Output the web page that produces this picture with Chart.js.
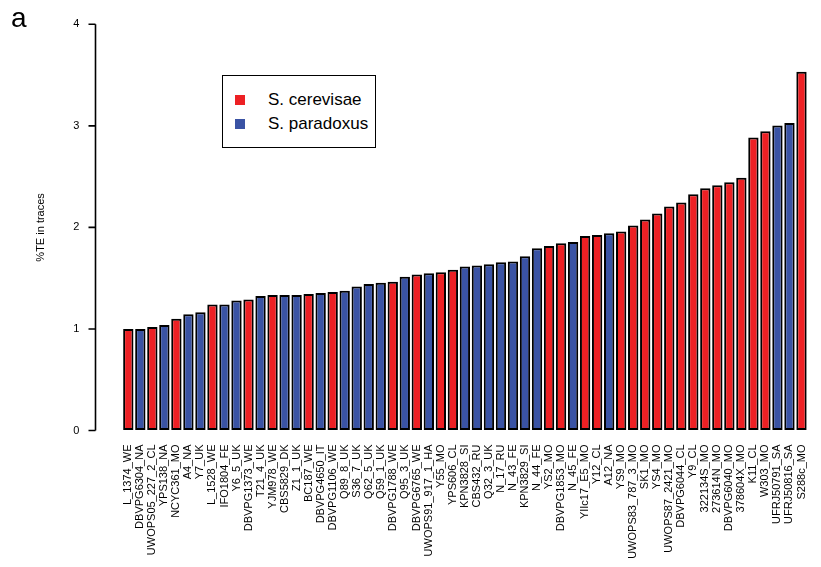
<!DOCTYPE html>
<html>
<head>
<meta charset="utf-8">
<script src="https://cdn.jsdelivr.net/npm/chart.js@4"></script>
<style>
  html, body { margin: 0; padding: 0; background: #fff; }
  #wrap { position: relative; width: 821px; height: 567px; }
  #panel { position: absolute; left: 11px; top: 2px; font: 28px "Liberation Sans", Arial, sans-serif; color: #000; }
  #legend { position: absolute; left: 222px; top: 75px; width: 152px; height: 71px; border: 1.8px solid #000; background: #fff;
            font: 17px "Liberation Sans", Arial, sans-serif; color: #000; }
  .row { position: absolute; left: 0; height: 20px; line-height: 20px; white-space: nowrap; }
  .sw { position: absolute; left: 12px; top: 5px; width: 10px; height: 10px; }
  .lbl { position: absolute; left: 45px; top: 0; }
</style>
</head>
<body>
<div id="wrap">
  <canvas id="c" width="821" height="567"></canvas>
  <div id="panel">a</div>
  <div id="legend"></div>
</div>
<script>
const strains = [
  "L_1374_WE","DBVPG6304_NA","UWOPS05_227_2_CL","YPS138_NA","NCYC361_MO","A4_NA","Y7_UK","L_1528_WE",
  "IFO1804_FE","Y6_5_UK","DBVPG1373_WE","T21_4_UK","YJM978_WE","CBS5829_DK","Z1_1_UK","BC187_WE",
  "DBVPG4650_IT","DBVPG1106_WE","Q89_8_UK","S36_7_UK","Q62_5_UK","Q59_1_UK","DBVPG1788_WE","Q95_3_UK",
  "DBVPG6765_WE","UWOPS91_917_1_HA","Y55_MO","YPS606_CL","KPN3828_SI","CBS432_RU","Q32_3_UK","N_17_RU",
  "N_43_FE","KPN3829_SI","N_44_FE","YS2_MO","DBVPG1853_MO","N_45_FE","YIIc17_E5_MO","Y12_CL",
  "A12_NA","YS9_MO","UWOPS83_787_3_MO","SK1_MO","YS4_MO","UWOPS87_2421_MO","DBVPG6044_CL","Y9_CL",
  "322134S_MO","273614N_MO","DBVPG6040_MO","378604X_MO","K11_CL","W303_MO","UFRJ50791_SA","UFRJ50816_SA",
  "S288c_MO"
];
// species: c = S. cerevisae, p = S. paradoxus
const species = [
  "c","p","c","p","c","p","p","c",
  "p","p","c","p","c","p","p","c",
  "p","c","p","p","p","p","c","p",
  "c","p","c","c","p","p","p","p",
  "p","p","p","c","c","p","c","c",
  "p","c","c","c","c","c","c","c",
  "c","c","c","c","c","c","p","p",
  "c"
];
const teValues = [
  1.00,1.00,1.02,1.04,1.10,1.145,1.165,1.24,
  1.24,1.28,1.29,1.325,1.335,1.335,1.335,1.345,
  1.355,1.365,1.377,1.417,1.443,1.456,1.466,1.515,
  1.535,1.549,1.558,1.584,1.614,1.624,1.637,1.657,
  1.663,1.716,1.795,1.818,1.844,1.857,1.916,1.926,
  1.943,1.959,2.018,2.077,2.136,2.205,2.244,2.327,
  2.386,2.416,2.445,2.488,2.885,2.948,3.003,3.027,
  3.532
];
const seriesNames = ["S. cerevisae", "S. paradoxus"];
const seriesKeys = ["c", "p"];
const seriesColors = ["#ED2024", "#3A53A4"];
const yTicks = [0, 1, 2, 3, 4];
const yTitle = "%TE in traces";

const datasets = seriesKeys.map((k, i) => ({
  label: seriesNames[i],
  data: teValues.map((v, j) => species[j] === k ? v : null),
  backgroundColor: seriesColors[i],
  borderColor: "#000",
  borderWidth: 2,
  borderSkipped: false,
  grouped: false,
  barPercentage: 0.86,
  categoryPercentage: 1.0
}));

// legend (HTML)
const leg = document.getElementById("legend");
seriesNames.forEach((n, i) => {
  const r = document.createElement("div");
  r.className = "row";
  r.style.top = (14 + i * 24) + "px";
  r.style.width = "150px";
  r.innerHTML = '<span class="sw" style="background:' + seriesColors[i] + '"></span><span class="lbl"></span>';
  r.querySelector(".lbl").textContent = n;
  leg.appendChild(r);
});

const axisPlugin = {
  id: "rAxis",
  afterDraw(chart) {
    const y = chart.scales.y;
    const ctx = chart.ctx;
    const ax = 95.5;
    ctx.save();
    ctx.strokeStyle = "#000";
    ctx.lineWidth = 1.6;
    ctx.beginPath();
    ctx.moveTo(ax, y.getPixelForValue(yTicks[0]));
    ctx.lineTo(ax, y.getPixelForValue(yTicks[yTicks.length - 1]));
    yTicks.forEach(t => {
      const py = y.getPixelForValue(t);
      ctx.moveTo(ax, py);
      ctx.lineTo(ax - 7, py);
    });
    ctx.stroke();
    ctx.restore();
  }
};

new Chart(document.getElementById("c"), {
  type: "bar",
  data: { labels: strains, datasets },
  plugins: [axisPlugin],
  options: {
    responsive: false,
    devicePixelRatio: 1,
    animation: false,
    layout: { padding: { left: 0, right: 13.5, top: 24.3, bottom: 0 } },
    plugins: { legend: { display: false }, tooltip: { enabled: false } },
    scales: {
      x: {
        type: "category",
        offset: true,
        grid: { display: false, drawTicks: false },
        border: { display: false },
        ticks: {
          autoSkip: false,
          maxRotation: 90,
          minRotation: 90,
          padding: 14,
          color: "#000",
          font: { family: "'Liberation Sans', Arial, sans-serif", size: 11 }
        },
        afterFit(s) { s.height = 136.5; s.paddingLeft = 0; s.paddingRight = 0; }
      },
      y: {
        min: 0,
        max: 4,
        grid: { display: true, drawOnChartArea: false, drawTicks: false },
        border: { display: false },
        afterBuildTicks(s) { s.ticks = yTicks.map(v => ({ value: v })); },
        ticks: {
          padding: 43,
          color: "#000",
          font: { family: "'Liberation Sans', Arial, sans-serif", size: 11 },
          callback: v => String(v)
        },
        title: {
          display: true,
          text: yTitle,
          color: "#000",
          padding: { top: 34, bottom: 0 },
          font: { family: "'Liberation Sans', Arial, sans-serif", size: 11 }
        },
        afterFit(s) { s.width = 122.3; s.paddingTop = 0; s.paddingBottom = 0; }
      }
    }
  }
});
</script>
</body>
</html>
